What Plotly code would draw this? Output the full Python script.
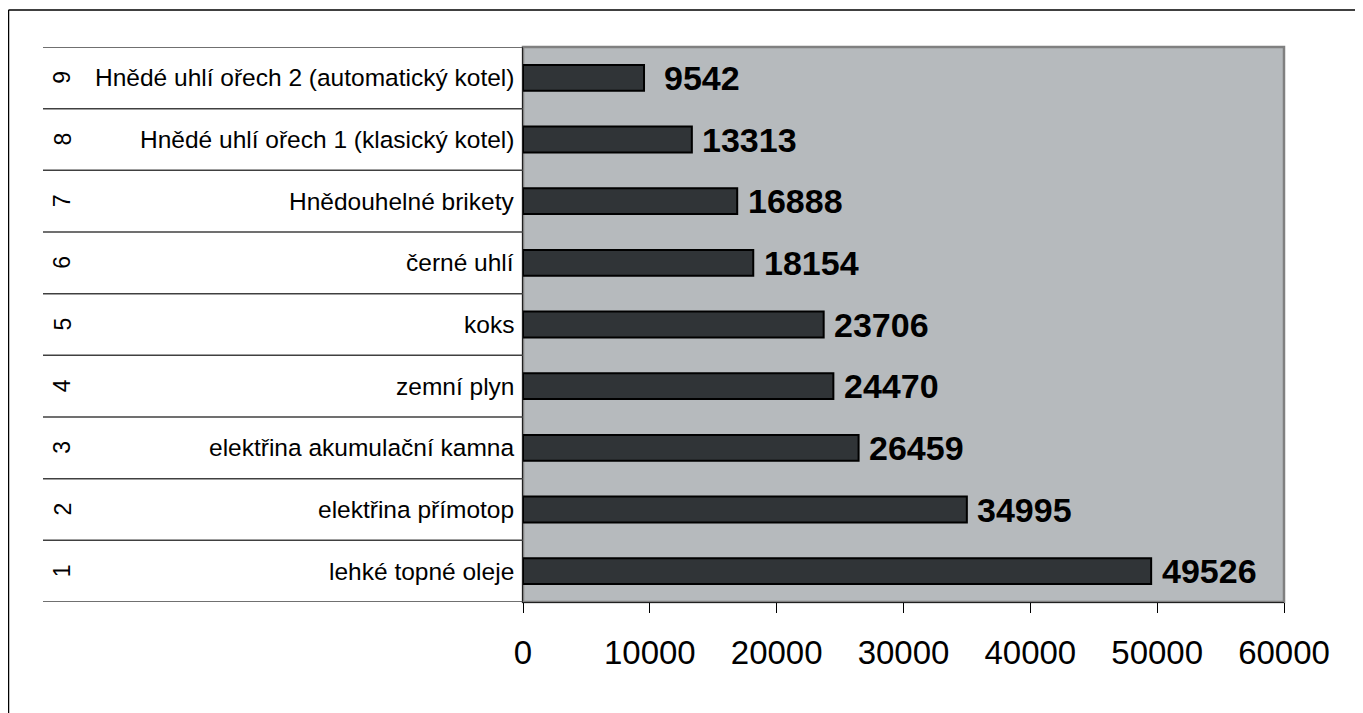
import plotly.graph_objects as go

categories = [
    "lehké topné oleje",
    "elektřina přímotop",
    "elektřina akumulační kamna",
    "zemní plyn",
    "koks",
    "černé uhlí",
    "Hnědouhelné brikety",
    "Hnědé uhlí ořech 1 (klasický kotel)",
    "Hnědé uhlí ořech 2 (automatický kotel)",
]
row_numbers = ["1", "2", "3", "4", "5", "6", "7", "8", "9"]
values = [49526, 34995, 26459, 24470, 23706, 18154, 16888, 13313, 9542]
x_ticks = [0, 10000, 20000, 30000, 40000, 50000, 60000]

# page body has an 8px margin; work in page pixels and subtract it
OFF = 8
W, H = 1363 - OFF, 713 - OFF
L, R, T, B = 523 - OFF, 1284 - OFF, 47 - OFF, 602 - OFF
pw, ph = R - L, B - T

def px_x(p):
    return (p - OFF - L) / pw

def px_y(p):
    return (B - (p - OFF)) / ph

FONT = "Liberation Sans, Arial, sans-serif"

fig = go.Figure()
fig.add_trace(go.Bar(
    y=list(range(len(categories))),
    x=values,
    orientation="h",
    width=0.42,
    marker=dict(color="#303437", line=dict(color="#000000", width=2)),
    hoverinfo="x",
))

annotations = []
for i, (cat, num, v) in enumerate(zip(categories, row_numbers, values)):
    annotations.append(dict(x=px_x(516), xref="paper", y=i, yref="y", text=cat,
                            showarrow=False, xanchor="right", yanchor="middle",
                            font=dict(family=FONT, size=24.5, color="#000000")))
    annotations.append(dict(x=px_x(62), xref="paper", y=i, yref="y", text=num,
                            showarrow=False, xanchor="center", yanchor="middle",
                            textangle=-90,
                            font=dict(family=FONT, size=23, color="#000000")))
    annotations.append(dict(x=v, xref="x", y=i, yref="y", text="<b>%d</b>" % v,
                            showarrow=False, xanchor="center", yanchor="middle",
                            xshift=58,
                            font=dict(family=FONT, size=34, color="#000000")))

shapes = []
for k in range(len(categories) + 1):
    shapes.append(dict(type="line", xref="paper", yref="y",
                       x0=px_x(43), x1=0, y0=k - 0.5, y1=k - 0.5,
                       line=dict(color="#404040", width=1.5)))
shapes.append(dict(type="rect", xref="paper", yref="paper", x0=0, x1=1, y0=0, y1=1,
                   line=dict(color="#808080", width=2.5), layer="below"))
shapes.append(dict(type="line", xref="paper", yref="paper",
                   x0=px_x(8.5), x1=px_x(8.5), y0=px_y(10), y1=px_y(720),
                   line=dict(color="#000000", width=1.5)))
shapes.append(dict(type="line", xref="paper", yref="paper",
                   x0=px_x(8.5), x1=px_x(1370), y0=px_y(10), y1=px_y(10),
                   line=dict(color="#000000", width=1.5)))

fig.update_layout(
    width=W, height=H,
    margin=dict(l=L, r=W - R, t=T, b=H - B),
    paper_bgcolor="#ffffff",
    plot_bgcolor="#b6babd",
    showlegend=False,
    annotations=annotations,
    shapes=shapes,
    xaxis=dict(range=[0, 60000], tickvals=x_ticks, ticktext=[str(t) for t in x_ticks],
               ticks="outside", ticklen=10, tickwidth=1, tickcolor="#000000",
               ticklabelstandoff=11,
               showgrid=False, zeroline=False, showline=True, linecolor="#202020",
               linewidth=1,
               tickfont=dict(family=FONT, size=33, color="#000000")),
    yaxis=dict(range=[-0.5, len(categories) - 0.5], showticklabels=False,
               showgrid=False, zeroline=False, showline=True, linecolor="#202020",
               linewidth=1, ticks=""),
)

fig.write_html("out.html")
